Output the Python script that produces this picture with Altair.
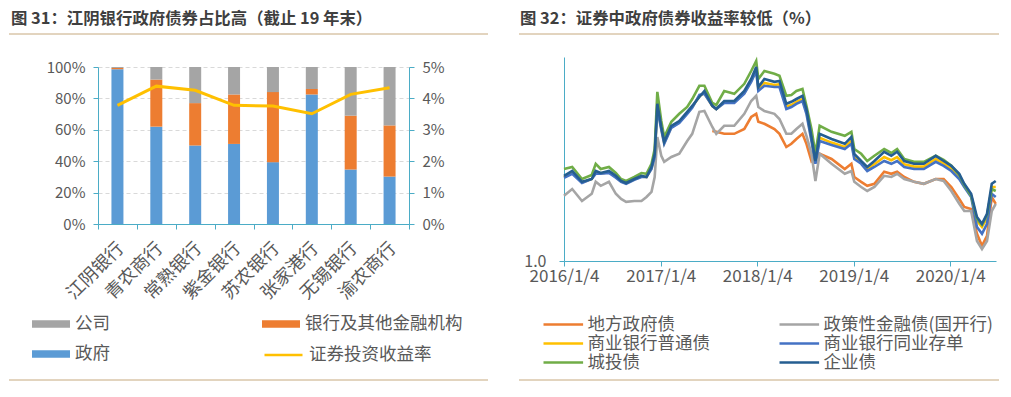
import altair as alt
import pandas as pd

FONT = "Noto Sans CJK SC"
TEXT_C = "#595959"
TITLE_C = "#3F3F3F"
AXIS_C = "#4BACC6"
RULE_C = "#C6A97E"

# ---------------- left panel data ----------------
BANKS = ["江阴银行", "青农商行", "常熟银行", "紫金银行", "苏农银行", "张家港行", "无锡银行", "渝农商行"]
GOV_SHARE = [98.6, 62.0, 50.0, 51.0, 39.4, 82.5, 34.7, 30.2]
FIN_SHARE = [0.8, 30.0, 27.0, 31.5, 44.6, 3.5, 34.3, 32.6]
CORP_SHARE = [0.6, 8.0, 23.0, 17.5, 16.0, 14.0, 31.0, 37.2]
INV_YIELD = [3.78, 4.39, 4.26, 3.78, 3.76, 3.51, 4.13, 4.34]
HOLDERS = ["公司", "银行及其他金融机构", "政府"]
HOLDER_COLORS = ["#A5A5A5", "#ED7D31", "#5B9BD5"]
LEFT_TICKS = [0, 20, 40, 60, 80, 100]
RIGHT_TICKS = [0, 1, 2, 3, 4, 5]

# ---------------- right panel data ----------------
DATES = [
    "2016-01-04", "2016-02-04", "2016-03-12", "2016-04-18", "2016-05-03", "2016-05-22", "2016-06-22",
    "2016-07-18", "2016-08-07", "2016-08-26", "2016-09-26", "2016-10-23", "2016-11-11", "2016-11-30",
    "2016-12-12", "2016-12-22", "2017-01-06", "2017-01-17", "2017-02-13", "2017-03-15", "2017-04-14",
    "2017-05-03", "2017-05-30", "2017-06-18", "2017-07-18", "2017-08-02", "2017-09-01", "2017-10-09",
    "2017-11-16", "2017-12-12", "2017-12-31", "2018-01-08", "2018-01-31", "2018-03-10", "2018-03-29",
    "2018-04-24", "2018-05-13", "2018-06-01", "2018-06-24", "2018-07-09", "2018-07-28", "2018-08-12",
    "2018-08-28", "2018-10-12", "2018-12-01", "2018-12-26", "2019-01-06", "2019-02-01", "2019-02-24",
    "2019-03-23", "2019-04-29", "2019-05-26", "2019-06-17", "2019-07-14", "2019-08-20", "2019-09-26",
    "2019-11-10", "2019-12-10", "2020-01-08", "2020-02-07", "2020-02-26", "2020-03-23", "2020-04-14",
    "2020-05-03", "2020-05-22", "2020-06-09", "2020-06-24",
]
LOCAL_GOV = [None] * 24 + [
    4.25, 4.23, 4.18, 4.18, 4.30, 4.60,
    4.68, 4.48, 4.43, 4.30, 4.18, 3.85, 3.93, 4.05, 4.18, 3.93,
    3.50, 3.60, 3.68, 3.55, 3.30, 3.43, 3.10, 2.98, 2.88, 2.93,
    3.23, 3.18, 3.23, 3.10, 2.98, 2.93, 3.05, 3.05, 2.85, 2.55,
    2.35, 2.30, 1.68, 1.38, 1.63, 2.60, 2.43,
]
POLICY_CDB = [
    2.63, 2.80, 2.50, 2.68, 2.98, 2.88, 2.98, 2.68, 2.55, 2.48,
    2.50, 2.50, 2.60, 2.73, 3.10, 4.10, 3.63, 3.48, 3.60, 3.68,
    4.00, 4.18, 4.73, 4.75, 4.35, 4.18, 4.38, 4.38, 4.68, 5.00,
    5.13, 4.85, 4.75, 4.68, 4.55, 4.18, 4.18, 4.30, 4.43, 4.13,
    3.68, 3.00, 3.68, 3.43, 3.18, 3.25, 2.98, 2.85, 2.75, 2.85,
    3.13, 3.10, 3.18, 3.05, 2.98, 2.93, 3.05, 3.00, 2.75, 2.43,
    2.25, 2.25, 1.50, 1.30, 1.50, 2.25, 2.43,
]
BANK_BOND = [
    3.10, 3.22, 2.96, 3.05, 3.22, 3.19, 3.22, 3.10, 2.99, 2.94,
    3.04, 3.11, 3.10, 3.32, 3.64, 4.86, 4.31, 3.95, 4.35, 4.47,
    4.70, 4.85, 5.12, 5.20, 4.87, 4.80, 4.97, 4.97, 5.20, 5.50,
    5.80, 5.30, 5.45, 5.40, 5.42, 4.86, 4.90, 4.98, 5.05, 4.73,
    4.05, 3.46, 4.08, 3.96, 3.85, 4.00, 3.60, 3.46, 3.30, 3.42,
    3.60, 3.52, 3.60, 3.42, 3.36, 3.36, 3.55, 3.44, 3.30, 3.10,
    2.88, 2.63, 2.00, 1.85, 2.08, 2.85, 2.85,
]
NCD = [
    3.08, 3.18, 2.95, 3.05, 3.18, 3.18, 3.20, 3.08, 2.98, 2.93,
    3.03, 3.10, 3.10, 3.30, 3.60, 4.80, 4.28, 3.93, 4.33, 4.45,
    4.68, 4.83, 5.15, 5.18, 4.88, 4.80, 4.95, 4.95, 5.18, 5.48,
    5.75, 5.25, 5.38, 5.35, 5.35, 4.80, 4.85, 4.93, 5.00, 4.68,
    4.00, 3.43, 4.00, 3.90, 3.80, 3.93, 3.55, 3.43, 3.25, 3.35,
    3.50, 3.43, 3.50, 3.35, 3.30, 3.30, 3.48, 3.38, 3.25, 3.05,
    2.85, 2.60, 1.85, 1.68, 1.93, 2.68, 2.60,
]
LGFV = [
    3.30, 3.35, 3.05, 3.15, 3.43, 3.30, 3.35, 3.20, 3.05, 3.00,
    3.10, 3.20, 3.18, 3.43, 3.80, 5.23, 4.50, 4.10, 4.48, 4.68,
    4.85, 5.05, 5.38, 5.38, 4.95, 4.90, 5.25, 5.18, 5.43, 5.75,
    6.00, 5.55, 5.75, 5.68, 5.63, 5.13, 5.15, 5.25, 5.30, 4.88,
    4.30, 3.68, 4.38, 4.23, 4.13, 4.23, 3.80, 3.68, 3.50, 3.63,
    3.80, 3.70, 3.80, 3.55, 3.48, 3.48, 3.63, 3.53, 3.38, 3.15,
    2.90, 2.63, 2.05, 1.90, 2.15, 2.80, 2.75,
]
CORP_BOND = [
    3.13, 3.25, 2.98, 3.05, 3.25, 3.20, 3.25, 3.13, 3.00, 2.95,
    3.05, 3.13, 3.10, 3.35, 3.68, 4.93, 4.35, 3.98, 4.38, 4.50,
    4.73, 4.88, 5.10, 5.25, 4.88, 4.80, 5.00, 5.00, 5.25, 5.55,
    5.85, 5.35, 5.55, 5.48, 5.50, 4.93, 4.98, 5.05, 5.13, 4.80,
    4.10, 3.50, 4.18, 4.05, 3.93, 4.10, 3.68, 3.50, 3.35, 3.50,
    3.73, 3.63, 3.73, 3.50, 3.43, 3.43, 3.63, 3.50, 3.38, 3.18,
    2.93, 2.68, 2.10, 1.93, 2.18, 2.93, 3.00,
]
SERIES = ["地方政府债", "政策性金融债(国开行)", "商业银行普通债", "商业银行同业存单", "城投债", "企业债"]
SERIES_VALUES = [LOCAL_GOV, POLICY_CDB, BANK_BOND, NCD, LGFV, CORP_BOND]
SERIES_COLORS = ["#ED7D31", "#A5A5A5", "#FFC000", "#4472C4", "#70AD47", "#255E91"]
YEAR_TICKS = [2016, 2017, 2018, 2019, 2020]

# ---------------- left panel ----------------
rows = []
for i, b in enumerate(BANKS):
    for h, v, o in (("政府", GOV_SHARE[i], 0), ("银行及其他金融机构", FIN_SHARE[i], 1), ("公司", CORP_SHARE[i], 2)):
        rows.append({"bank": b, "holder": h, "share": v, "ord": o})
bar_df = pd.DataFrame(rows)
line_df = pd.DataFrame({"bank": BANKS, "rate": INV_YIELD, "series": ["证券投资收益率"] * len(BANKS)})
one = pd.DataFrame({"k": [0]})

LEFT_H = 167          # plot group height (bars occupy its lower part)
LEFT_RANGE = [167, 10]

x_left = alt.X(
    "bank:N", sort=BANKS,
    scale=alt.Scale(domain=BANKS, paddingInner=0, paddingOuter=0),
    axis=alt.Axis(title=None, labelAngle=-45, tickBand="extent", labelFontSize=18,
                  labelPadding=10, labelOffset=-3, tickSize=5),
)

bars = alt.Chart(bar_df).mark_bar(size=12).encode(
    x=x_left,
    y=alt.Y("share:Q", stack="zero", scale=alt.Scale(domain=[0, 100], nice=False, range=LEFT_RANGE),
            axis=alt.Axis(title=None, values=LEFT_TICKS, labelExpr="datum.value + '%'",
                          grid=True, gridDash=[4, 3], gridColor="#D9D9D9",
                          labelFontSize=15, labelPadding=8, tickSize=5)),
    color=alt.Color("holder:N", scale=alt.Scale(domain=HOLDERS, range=HOLDER_COLORS),
                    legend=alt.Legend(title=None, orient="none", legendX=-56.5, legendY=257.5,
                                      columns=2, direction="horizontal",
                                      symbolType="M-2,-0.4H2V0.4H-2Z", symbolSize=361,
                                      symbolStrokeWidth=0, labelFontSize=17.5, labelOffset=14.5,
                                      columnPadding=151, rowPadding=12, padding=0, labelLimit=300)),
    order=alt.Order("ord:Q"),
)

inv_line = alt.Chart(line_df).mark_line(strokeWidth=3).encode(
    x=x_left,
    y=alt.Y("rate:Q", scale=alt.Scale(domain=[0, 5], nice=False, range=LEFT_RANGE),
            axis=alt.Axis(title=None, orient="right", values=RIGHT_TICKS,
                          labelExpr="datum.value + '%'", grid=False,
                          labelFontSize=15, labelPadding=8, tickSize=5)),
    stroke=alt.Stroke("series:N", scale=alt.Scale(domain=["证券投资收益率"], range=["#FFC000"]),
                      legend=alt.Legend(title=None, orient="none", legendX=174.5, legendY=287,
                                        symbolType="M-2,0H2", symbolSize=361, symbolStrokeWidth=2.5,
                                        labelFontSize=17.5, labelOffset=14.5, padding=0, labelLimit=300)),
)

l_top = alt.Chart(one).mark_rule(color=RULE_C, strokeWidth=1).encode(
    x=alt.value(-89), x2=alt.value(390), y=alt.value(-23))
l_bot = alt.Chart(one).mark_rule(color=RULE_C, strokeWidth=1).encode(
    x=alt.value(-89), x2=alt.value(390), y=alt.value(323))

left = alt.layer(bars, inv_line, l_top, l_bot).resolve_scale(y="independent").properties(
    width=311, height=LEFT_H,
    title=alt.TitleParams("图 31：江阴银行政府债券占比高（截止 19 年末）", anchor="start", frame="group",
                          dx=-87, dy=10, offset=0, fontSize=16.4, fontWeight="bold", color=TITLE_C,
                          font=FONT, baseline="bottom"),
)

# ---------------- right panel ----------------
recs = []
for name, vals in zip(SERIES, SERIES_VALUES):
    for d, v in zip(DATES, vals):
        if v is not None:
            recs.append({"date": d, "series": name, "value": v})
ts_df = pd.DataFrame(recs)

x_right = alt.X(
    "date:T",
    scale=alt.Scale(domain=[alt.DateTime(year=2016, month=1, date=4, utc=True),
                            alt.DateTime(year=2020, month=6, date=25, utc=True)], nice=False),
    axis=alt.Axis(title=None, values=[alt.DateTime(year=y, month=1, date=4, utc=True) for y in YEAR_TICKS],
                  labelExpr="utcFormat(datum.value, '%Y/%-m/%-d')", labelFontSize=17,
                  tickSize=5, grid=False, labelPadding=2, labelOverlap=False, labelFlush=False),
)
y_right = alt.Y("value:Q", scale=alt.Scale(domain=[1.0, 6.1], nice=False),
                axis=alt.Axis(title=None, values=[1.0], format=".1f", grid=False,
                              labelFontSize=16, labelPadding=13, tickSize=5))
color_right = alt.Color("series:N", scale=alt.Scale(domain=SERIES, range=SERIES_COLORS),
                        legend=alt.Legend(title=None, orient="none", legendX=-11.2, legendY=257,
                                          columns=2, direction="horizontal",
                                          symbolType="M-2.2,0H2.2", symbolSize=324,
                                          symbolStrokeWidth=2.5, labelFontSize=17.5, labelOffset=13.8,
                                          columnPadding=63, rowPadding=0, padding=0, labelLimit=300))

ts_layers = [
    alt.Chart(ts_df[ts_df["series"] == name]).mark_line(strokeWidth=2.6).encode(
        x=x_right, y=y_right, color=color_right)
    for name in SERIES
]
r_top = alt.Chart(one).mark_rule(color=RULE_C, strokeWidth=1).encode(
    x=alt.value(-45), x2=alt.value(435), y=alt.value(-23))
r_bot = alt.Chart(one).mark_rule(color=RULE_C, strokeWidth=1).encode(
    x=alt.value(-45), x2=alt.value(435), y=alt.value(323))

right = alt.layer(*ts_layers, r_top, r_bot).properties(
    width=432, height=204,
    title=alt.TitleParams("图 32：证券中政府债券收益率较低（%）", anchor="start", frame="group",
                          dx=-44, dy=10, offset=0, fontSize=16.4, fontWeight="bold", color=TITLE_C,
                          font=FONT, baseline="bottom"),
)

chart = alt.hconcat(left, right, spacing=155, bounds="flush").resolve_scale(
    color="independent", stroke="independent"
).properties(
    padding={"left": 0, "top": 3, "right": 0, "bottom": 0},
    background="white",
).configure_view(stroke=None).configure_axis(
    domainColor=AXIS_C, tickColor=AXIS_C, labelColor=TEXT_C, labelFont=FONT,
).configure_legend(
    labelFont=FONT, labelColor=TEXT_C,
)

chart.save("out.html", embed_options={"renderer": "svg", "actions": False})
